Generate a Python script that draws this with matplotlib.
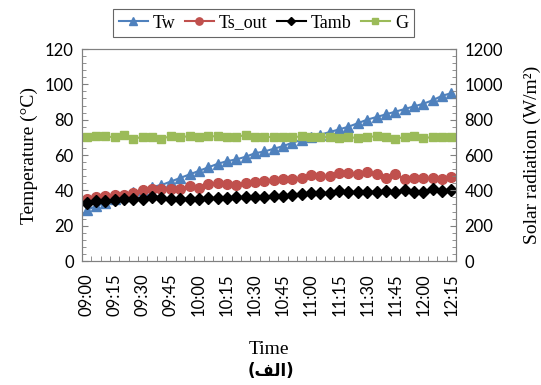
import numpy as np
import matplotlib
matplotlib.use('Agg')
import matplotlib.pyplot as plt
from matplotlib.ticker import MultipleLocator, FixedLocator

# readings every 5 minutes, 09:00 .. 12:15
tick_labels = ['09:00', '09:15', '09:30', '09:45', '10:00', '10:15', '10:30',
               '10:45', '11:00', '11:15', '11:30', '11:45', '12:00', '12:15']

tw = [29, 31, 33, 35, 37, 39, 40, 42, 43, 45, 47, 49, 51, 53, 55, 56.5, 57.5, 59, 61, 62,
      63.5, 65, 67, 68.5, 70, 71.5, 73, 74.5, 76, 78, 80, 81.5, 83, 84.5, 86, 87.5, 89, 91, 93.5, 95]
ts_out = [35.3, 36.4, 36.8, 37.4, 37.2, 38.5, 40.2, 41, 41, 40.6, 40.6, 42.4, 41.2, 43.4, 44.3, 43.6,
          43.2, 44.3, 45, 45.5, 46, 46.6, 46.5, 47, 48.6, 48.1, 48.3, 49.6, 49.8, 49.0, 50.3, 49.0,
          46.8, 49.0, 46.6, 46.8, 47.1, 47.1, 46.2, 47.7]
tamb = [33, 33.8, 34.2, 34.8, 35, 35.3, 35.3, 36, 35.5, 35.3, 35.3, 35.3, 35.3, 35.5, 35.8, 35.8,
        36, 36.3, 36.5, 36.5, 37, 37, 37.2, 37.7, 38.3, 38.3, 38.7, 39.6, 39.1, 39.1, 39.2, 39.2,
        39.6, 39.2, 40, 39.2, 39.2, 41, 39.6, 40.2]
g = [702, 710, 706, 700, 715, 693, 702, 702, 693, 706, 702, 706, 702, 706, 706, 702, 704, 712, 702, 700,
     704, 702, 700, 706, 704, 700, 704, 698, 702, 695, 702, 706, 702, 691, 702, 710, 695, 702, 702, 702]

x = np.arange(len(tw))

fig = plt.figure(figsize=(5.41, 3.85), dpi=100)
ax = fig.add_axes([82/541, 1 - 261/385, (456 - 82)/541, (261 - 49)/385])
ax2 = ax.twinx()

serif = 'Liberation Serif'
sans = 'Lato'

l1, = ax.plot(x, tw, color='#4F81BD', lw=1.5, marker='^', ms=7, label='Tw')
l2, = ax.plot(x, ts_out, color='#C0504D', lw=1.5, marker='o', ms=7, label='Ts_out')
l3, = ax.plot(x, tamb, color='black', lw=1.5, marker='D', ms=6, label='Tamb')
l4, = ax2.plot(x, g, color='#9BBB59', lw=1.5, marker='s', ms=5.5, label='G')

ax.set_xlim(-0.5, len(tw) - 0.5)
ax.set_ylim(0, 120)
ax2.set_ylim(0, 1200)
ax.yaxis.set_major_locator(MultipleLocator(20))
ax.yaxis.set_minor_locator(MultipleLocator(4))
ax2.yaxis.set_major_locator(MultipleLocator(200))
ax2.yaxis.set_minor_locator(MultipleLocator(40))

ax.xaxis.set_major_locator(FixedLocator(x[::3]))
ax.set_xticklabels(tick_labels, rotation=90, fontfamily=sans, fontsize=12)
ax.xaxis.set_minor_locator(FixedLocator(np.arange(-0.5, len(tw), 1)))
ax.tick_params(axis='x', which='major', length=0, pad=9)
ax.tick_params(axis='x', which='minor', direction='in', length=3.5, color='#808080')

for a in (ax, ax2):
    a.tick_params(axis='y', which='both', direction='in', color='#808080')
    a.tick_params(axis='y', which='major', length=4.5, labelsize=12)
    a.tick_params(axis='y', which='minor', length=3)
    for lab in a.get_yticklabels():
        lab.set_fontfamily(sans)
    for s in a.spines.values():
        s.set_color('#808080')
        s.set_linewidth(0.8)
ax.tick_params(axis='y', pad=6)
ax2.tick_params(axis='y', pad=6)

ax.set_ylabel('Temperature (°C)', fontfamily=serif, fontsize=14, labelpad=5)
ax2.set_ylabel('Solar radiation (W/m²)', fontfamily=serif, fontsize=14, labelpad=15)
ax.set_xlabel('Time', fontfamily=serif, fontsize=14, labelpad=18)
fig.text(0.5, 1 - 371/385, '(\uFED2\uFEDF\uFE8D)', ha='center', va='center',
         fontfamily='DejaVu Sans', fontweight='bold', fontsize=12)

leg = fig.legend(handles=[l1, l2, l3, l4], loc='center', bbox_to_anchor=(263.5/541, 1 - 23/385),
                 ncol=4, prop={'family': serif, 'size': 13}, frameon=True, fancybox=False,
                 handlelength=1.6, handletextpad=0.3, columnspacing=0.5, borderpad=0.3,
                 markerscale=0.75)
leg.get_frame().set_edgecolor('#404040')
leg.get_frame().set_linewidth(0.8)

fig.savefig('out.png', dpi=100)
